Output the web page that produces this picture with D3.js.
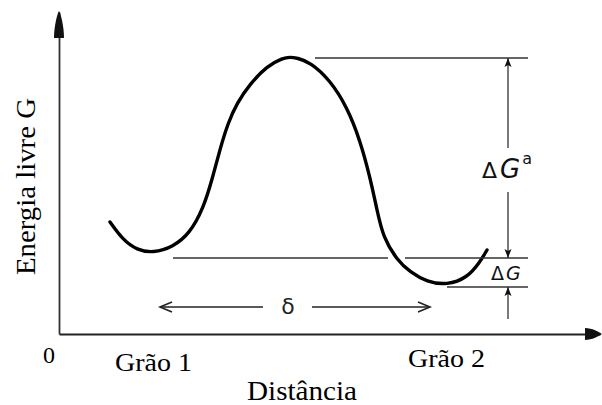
<!DOCTYPE html>
<html>
<head>
<meta charset="utf-8">
<script src="https://cdn.jsdelivr.net/npm/d3@7"></script>
<style>
  body { margin: 0; background: #fff; }
  svg { display: block; }
</style>
</head>
<body>
<svg id="chart"></svg>
<script>
// energy curve across the grain boundary (distance, free energy G), arbitrary units
const curveX = [51, 64, 78, 94, 114, 131, 144, 153, 161, 169, 178, 191, 208, 224, 231, 238, 251, 271, 288, 301, 311, 318, 324, 338, 351, 368, 388, 408, 421, 428];
const curveG = [112, 94, 84, 81, 87, 101, 125, 154, 185, 211, 231, 250, 268, 276, 277, 276, 272, 254, 227, 194, 157, 124, 97, 74, 62, 52, 49, 56, 72, 84];

// reference levels: activation peak, grain 1 (broken where the curve crosses), grain 2
const levelG = [276, 76, 76, 47];
const levelFrom = [256, 114, 346, 388];
const levelTo = [469, 329, 469, 469];

// dimension arrows on the right (x position, from G, to G)
const dimX = 449;
const dimFrom = [186, 142, 15];
const dimTo = [276, 76, 47];

// delta (jump distance) arrow
const deltaG = 27;
const deltaFrom = [204, 253];
const deltaTo = [101, 371];

const grainLabels = ["Grão 1", "Grão 2"];
const xTitle = "Distância";
const yTitle = "Energia livre G";

document.addEventListener("DOMContentLoaded", draw);

function draw() {
  const svgW = 602;
  const svgH = 405;
  const serif = "'Liberation Serif', 'Times New Roman', serif";
  const sans = "'DejaVu Sans', 'Liberation Sans', sans-serif";

  const svg = d3.select("#chart").attr("width", svgW).attr("height", svgH);

  const x = d3.scaleLinear().domain([0, 541]).range([59, 600]);
  const y = d3.scaleLinear().domain([0, 322]).range([334, 12]);

  // axes
  svg
    .append("g")
    .attr("transform", `translate(0, ${y(0)})`)
    .call(d3.axisBottom(x).ticks(0).tickSizeOuter(0))
    .select(".domain")
    .attr("stroke", "#222")
    .attr("stroke-width", 2);
  svg
    .append("g")
    .attr("transform", `translate(${x(0)}, 0)`)
    .call(d3.axisLeft(y).ticks(0).tickSizeOuter(0))
    .select(".domain")
    .attr("stroke", "#333")
    .attr("stroke-width", 1.8);

  // axis arrowheads
  svg
    .append("path")
    .attr("d", "M0,0 C2,3 5,16 5,27 L-5,27 C-5,16 -2,3 0,0 Z")
    .attr("fill", "#111")
    .attr("transform", `translate(${x(0)}, ${y.range()[1] - 1})`);
  svg
    .append("path")
    .attr("d", "M0,0 C2,3 6,10 6,17 L-6,17 C-6,10 -2,3 0,0 Z")
    .attr("fill", "#111")
    .attr("transform", `translate(${x.range()[1] + 2}, ${y(0)}) rotate(90)`);

  // energy curve
  const pts = curveX.map((d, i) => [d, curveG[i]]);
  const line = d3
    .line()
    .x((d) => x(d[0]))
    .y((d) => y(d[1]))
    .curve(d3.curveBasis);
  svg
    .append("path")
    .datum(pts)
    .attr("d", line)
    .attr("fill", "none")
    .attr("stroke", "#000")
    .attr("stroke-width", 3.4)
    .attr("stroke-linecap", "round");

  // level lines
  svg
    .append("g")
    .attr("stroke", "#333")
    .attr("stroke-width", 1.4)
    .selectAll("line")
    .data(levelG)
    .join("line")
    .attr("x1", (d, i) => x(levelFrom[i]))
    .attr("x2", (d, i) => x(levelTo[i]))
    .attr("y1", (d) => y(d))
    .attr("y2", (d) => y(d));

  // dimension arrows
  const head = "M0,0 L3.5,9 L0,7 L-3.5,9 Z";
  const dims = svg.append("g");
  dims
    .selectAll("line")
    .data(dimFrom)
    .join("line")
    .attr("x1", x(dimX))
    .attr("x2", x(dimX))
    .attr("y1", (d) => y(d))
    .attr("y2", (d, i) => y(dimTo[i]))
    .attr("stroke", "#333")
    .attr("stroke-width", 1.3);
  dims
    .selectAll("path")
    .data(dimTo)
    .join("path")
    .attr("d", head)
    .attr("fill", "#111")
    .attr("transform", (d, i) => {
      const up = dimTo[i] > dimFrom[i];
      return `translate(${x(dimX)}, ${y(d)}) rotate(${up ? 0 : 180})`;
    });

  // delta arrow
  const delta = svg.append("g").attr("stroke", "#222").attr("fill", "none");
  delta
    .selectAll("line")
    .data(deltaFrom)
    .join("line")
    .attr("x1", (d) => x(d))
    .attr("x2", (d, i) => x(deltaTo[i]))
    .attr("y1", y(deltaG))
    .attr("y2", y(deltaG))
    .attr("stroke-width", 1.3);
  delta
    .selectAll("path")
    .data(deltaTo)
    .join("path")
    .attr("d", "M-5,12 L0,0 L5,12")
    .attr("stroke-width", 1.6)
    .attr("transform", (d, i) => {
      const right = deltaTo[i] > deltaFrom[i];
      return `translate(${x(d)}, ${y(deltaG)}) rotate(${right ? 90 : -90})`;
    });

  // labels
  svg
    .append("text")
    .attr("x", 288)
    .attr("y", 314)
    .attr("text-anchor", "middle")
    .attr("font-family", sans)
    .attr("font-size", 22)
    .attr("fill", "#222")
    .text("δ");

  const ga = svg
    .append("text")
    .attr("x", 482)
    .attr("y", 178)
    .attr("font-family", sans)
    .attr("font-size", 22)
    .attr("fill", "#111");
  ga.append("tspan").text("Δ");
  ga.append("tspan").attr("dx", 3).attr("font-size", 26).attr("font-style", "italic").text("G");
  ga.append("tspan").attr("dx", 2).attr("dy", -14).attr("font-size", 16).text("a");

  const g2 = svg
    .append("text")
    .attr("x", 491)
    .attr("y", 280)
    .attr("font-family", sans)
    .attr("font-size", 19)
    .attr("fill", "#111");
  g2.append("tspan").text("Δ");
  g2.append("tspan").attr("dx", 2).attr("font-style", "italic").text("G");

  svg
    .append("text")
    .attr("x", 49)
    .attr("y", 363)
    .attr("text-anchor", "middle")
    .attr("font-family", serif)
    .attr("font-size", 24)
    .text("0");

  svg
    .selectAll(".grain")
    .data(grainLabels)
    .join("text")
    .attr("class", "grain")
    .attr("x", (d, i) => (i == 0 ? 115 : 408))
    .attr("y", (d, i) => (i == 0 ? 371 : 367))
    .attr("font-family", serif)
    .attr("font-size", 25)
    .attr("textLength", 77)
    .attr("lengthAdjust", "spacingAndGlyphs")
    .text((d) => d);

  svg
    .append("text")
    .attr("x", 247)
    .attr("y", 400)
    .attr("font-family", serif)
    .attr("font-size", 27)
    .attr("textLength", 110)
    .attr("lengthAdjust", "spacingAndGlyphs")
    .text(xTitle);

  svg
    .append("text")
    .attr("transform", "translate(35, 275) rotate(-90)")
    .attr("font-family", serif)
    .attr("font-size", 27)
    .attr("textLength", 177)
    .attr("lengthAdjust", "spacingAndGlyphs")
    .text(yTitle);
}
</script>
</body>
</html>
